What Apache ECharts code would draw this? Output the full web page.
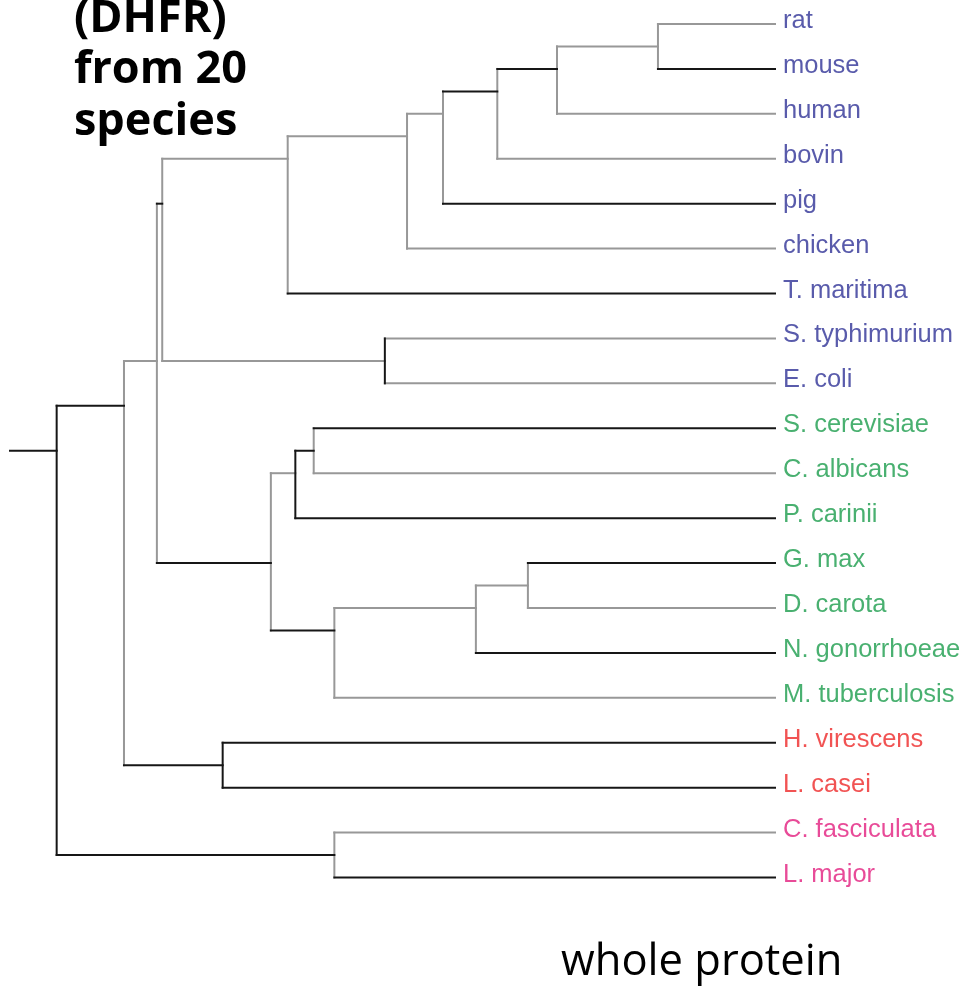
<!DOCTYPE html>
<html>
<head>
<meta charset="utf-8">
<title>DHFR tree</title>
<script src="https://cdn.jsdelivr.net/npm/echarts@6/dist/echarts.min.js"></script>
<style>
  html, body { margin: 0; padding: 0; background: #fff; }
  #chart { width: 965px; height: 989px; }
</style>
</head>
<body>
<div id="chart"></div>
<script>
// Species in the order they are drawn, top to bottom
const species = ['rat', 'mouse', 'human', 'bovin', 'pig', 'chicken', 'T. maritima',
  'S. typhimurium', 'E. coli', 'S. cerevisiae', 'C. albicans', 'P. carinii',
  'G. max', 'D. carota', 'N. gonorrhoeae', 'M. tuberculosis',
  'H. virescens', 'L. casei', 'C. fasciculata', 'L. major'];
// Label group of each species
const speciesGroup = [0, 0, 0, 0, 0, 0, 0, 0, 0, 1, 1, 1, 1, 1, 1, 1, 2, 2, 3, 3];

// Internal nodes: id, depth along the tree (tips sit at tipDepth), children
const cladeNames = ['root', 'a', 'b', 'c', 'd', 'f', 'g', 'h', 'i', 'j',
  'e', 'k', 'l', 'n', 'm', 'o', 'p', 'hl', 'cl'];
const cladeDepths = [6.1, 14.9, 19.2, 19.9, 36.3, 51.9, 56.6, 63.7, 71.5, 84.7,
  49.0, 34.1, 37.3, 39.7, 42.4, 60.9, 67.7, 27.8, 42.4];
const cladeChildren = [
  ['a', 'cl'], ['b', 'hl'], ['c', 'k'], ['d', 'e'], ['f', 'T. maritima'],
  ['g', 'chicken'], ['h', 'pig'], ['i', 'bovin'], ['j', 'human'], ['rat', 'mouse'],
  ['S. typhimurium', 'E. coli'], ['l', 'm'], ['n', 'P. carinii'],
  ['S. cerevisiae', 'C. albicans'], ['o', 'M. tuberculosis'], ['p', 'N. gonorrhoeae'],
  ['G. max', 'D. carota'], ['H. virescens', 'L. casei'], ['C. fasciculata', 'L. major']
];
const tipDepth = 100;

// Styling: which branches (edge into a node) and which joins (node verticals) are dark
const darkEdges = new Set(['stem', 'a', 'cl', 'hl', 'c', 'k', 'h', 'i', 'm', 'n',
  'mouse', 'pig', 'T. maritima', 'S. cerevisiae', 'P. carinii', 'G. max',
  'N. gonorrhoeae', 'H. virescens', 'L. casei', 'L. major']);
const darkJoins = new Set(['root', 'hl', 'e', 'l']);
const groupColors = ['#303296', '#1c9c4c', '#ee2828', '#e21e7e'];
const DARK = '#161616', GRAY = '#989898';

const leafIdx = Object.fromEntries(species.map((s, i) => [s, i]));
const cladeIdx = Object.fromEntries(cladeNames.map((c, i) => [c, i]));
const isLeaf = name => name in leafIdx;
function leavesUnder(name) {
  return isLeaf(name) ? [leafIdx[name]] : cladeChildren[cladeIdx[name]].flatMap(leavesUnder);
}
// a node sits at the mean row of the species below it
function rowOf(name) {
  const l = leavesUnder(name);
  return l.reduce((s, v) => s + v, 0) / l.length;
}
function depthOf(name) {
  return isLeaf(name) ? tipDepth : cladeDepths[cladeIdx[name]];
}

// segments as [x1, y1, x2, y2, dark]; gray ones first so dark ones paint on top
const segs = [];
function addSeg(a, b, dark) { segs.push([a[0], a[1], b[0], b[1], dark ? 1 : 0]); }
addSeg([0, rowOf('root')], [depthOf('root'), rowOf('root')], darkEdges.has('stem'));
cladeNames.forEach((name, ci) => {
  const kids = cladeChildren[ci];
  const x = cladeDepths[ci];
  addSeg([x, rowOf(kids[0])], [x, rowOf(kids[kids.length - 1])], darkJoins.has(name));
  kids.forEach(k => addSeg([x, rowOf(k)], [depthOf(k), rowOf(k)], darkEdges.has(k)));
});
segs.sort((p, q) => p[4] - q[4]);

const tipPoints = species.map((s, i) => ({
  value: [tipDepth, i],
  label: { color: groupColors[speciesGroup[i]] }
}));

const chart = echarts.init(document.getElementById('chart'), null, { renderer: 'canvas' });
chart.setOption({
  animation: false,
  backgroundColor: '#fff',
  title: [
    {
      text: '(DHFR)\nfrom 20\nspecies',
      left: 74, top: -7, padding: 0,
      textStyle: { fontFamily: 'Open Sans', fontWeight: 'bold', fontSize: 45, lineHeight: 51.5, color: '#000' }
    },
    {
      text: 'whole protein',
      left: 561, top: 941, padding: 0,
      textStyle: { fontFamily: 'Open Sans', fontWeight: 'normal', fontSize: 43.5, lineHeight: 43, color: '#000' }
    }
  ],
  grid: { left: 10, width: 765, top: 24, height: 853.5 },
  xAxis: { type: 'value', min: 0, max: tipDepth, show: false },
  yAxis: { type: 'value', min: 0, max: species.length - 1, inverse: true, show: false },
  series: [
    {
      type: 'custom', coordinateSystem: 'cartesian2d', silent: true, z: 2,
      data: segs,
      encode: { x: [0, 2], y: [1, 3] },
      renderItem: (params, api) => {
        const a = api.coord([api.value(0), api.value(1)]);
        const b = api.coord([api.value(2), api.value(3)]);
        const dark = api.value(4) === 1;
        return {
          type: 'line',
          shape: { x1: a[0], y1: a[1], x2: b[0], y2: b[1] },
          style: { stroke: dark ? DARK : GRAY, lineWidth: 2, lineCap: 'square' },
          z2: dark ? 2 : 1
        };
      }
    },
    {
      type: 'scatter', silent: true, symbolSize: 0, z: 4,
      data: tipPoints,
      label: {
        show: true, position: 'right', distance: 8, offset: [0, -3],
        fontFamily: 'Liberation Sans', fontSize: 25.5,
        formatter: p => species[p.dataIndex]
      }
    }
  ]
});
</script>
</body>
</html>
